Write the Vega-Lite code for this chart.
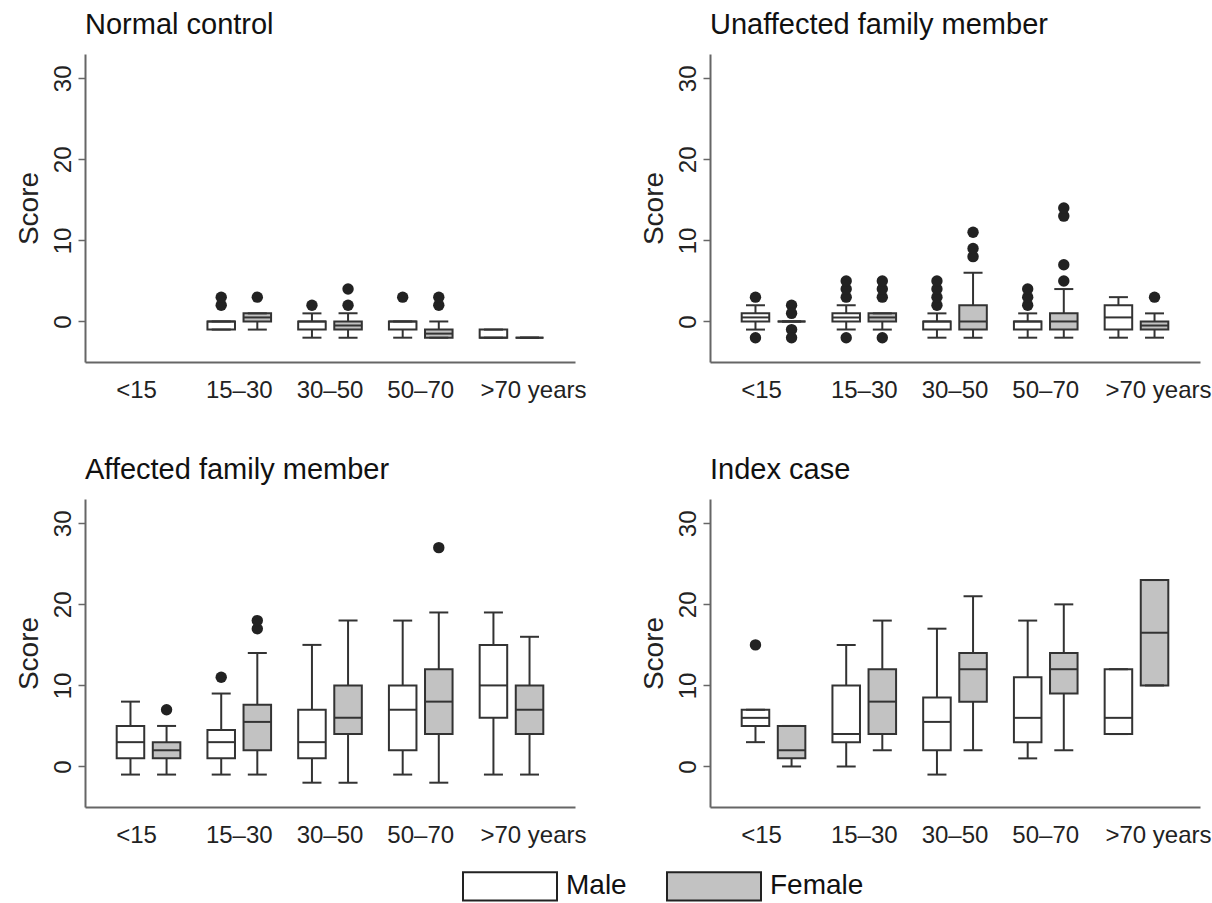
{
  "$schema": "https://vega.github.io/schema/vega-lite/v6.json",
  "background": "white",
  "padding": {"left": 15, "top": 11, "right": 5, "bottom": 2},
  "config": {
    "font": "Liberation Sans",
    "view": {"stroke": null},
    "axis": {"grid": false, "domainColor": "#666", "domainWidth": 2, "tickColor": "#666", "tickWidth": 1.5, "labelColor": "#222", "titleColor": "#222", "labelFont": "Liberation Sans", "titleFont": "Liberation Sans"}
  },
  "data": {"values": [
    {"kind": "box", "panel": "Normal control", "age": "15–30", "sex": "Male", "lo": -1, "q1": -1, "med": 0, "q3": 0, "hi": 0},
    {"kind": "box", "panel": "Normal control", "age": "15–30", "sex": "Female", "lo": -1, "q1": 0, "med": 0.5, "q3": 1, "hi": 1},
    {"kind": "box", "panel": "Normal control", "age": "30–50", "sex": "Male", "lo": -2, "q1": -1, "med": 0, "q3": 0, "hi": 1},
    {"kind": "box", "panel": "Normal control", "age": "30–50", "sex": "Female", "lo": -2, "q1": -1, "med": -0.5, "q3": 0, "hi": 1},
    {"kind": "box", "panel": "Normal control", "age": "50–70", "sex": "Male", "lo": -2, "q1": -1, "med": 0, "q3": 0, "hi": 0},
    {"kind": "box", "panel": "Normal control", "age": "50–70", "sex": "Female", "lo": -2, "q1": -2, "med": -1.5, "q3": -1, "hi": 0},
    {"kind": "box", "panel": "Normal control", "age": ">70", "sex": "Male", "lo": -2, "q1": -2, "med": -2, "q3": -1, "hi": -1},
    {"kind": "box", "panel": "Normal control", "age": ">70", "sex": "Female", "lo": -2, "q1": -2, "med": -2, "q3": -2, "hi": -2},
    {"kind": "out", "panel": "Normal control", "age": "15–30", "sex": "Male", "v": 2},
    {"kind": "out", "panel": "Normal control", "age": "15–30", "sex": "Male", "v": 3},
    {"kind": "out", "panel": "Normal control", "age": "15–30", "sex": "Female", "v": 3},
    {"kind": "out", "panel": "Normal control", "age": "30–50", "sex": "Male", "v": 2},
    {"kind": "out", "panel": "Normal control", "age": "30–50", "sex": "Female", "v": 2},
    {"kind": "out", "panel": "Normal control", "age": "30–50", "sex": "Female", "v": 4},
    {"kind": "out", "panel": "Normal control", "age": "50–70", "sex": "Male", "v": 3},
    {"kind": "out", "panel": "Normal control", "age": "50–70", "sex": "Female", "v": 2},
    {"kind": "out", "panel": "Normal control", "age": "50–70", "sex": "Female", "v": 3},

    {"kind": "box", "panel": "Unaffected family member", "age": "<15", "sex": "Male", "lo": -1, "q1": 0, "med": 0.5, "q3": 1, "hi": 2},
    {"kind": "box", "panel": "Unaffected family member", "age": "<15", "sex": "Female", "lo": 0, "q1": 0, "med": 0, "q3": 0, "hi": 0},
    {"kind": "box", "panel": "Unaffected family member", "age": "15–30", "sex": "Male", "lo": -1, "q1": 0, "med": 0.5, "q3": 1, "hi": 2},
    {"kind": "box", "panel": "Unaffected family member", "age": "15–30", "sex": "Female", "lo": -1, "q1": 0, "med": 0.5, "q3": 1, "hi": 1},
    {"kind": "box", "panel": "Unaffected family member", "age": "30–50", "sex": "Male", "lo": -2, "q1": -1, "med": 0, "q3": 0, "hi": 1},
    {"kind": "box", "panel": "Unaffected family member", "age": "30–50", "sex": "Female", "lo": -2, "q1": -1, "med": 0, "q3": 2, "hi": 6},
    {"kind": "box", "panel": "Unaffected family member", "age": "50–70", "sex": "Male", "lo": -2, "q1": -1, "med": 0, "q3": 0, "hi": 1},
    {"kind": "box", "panel": "Unaffected family member", "age": "50–70", "sex": "Female", "lo": -2, "q1": -1, "med": 0, "q3": 1, "hi": 4},
    {"kind": "box", "panel": "Unaffected family member", "age": ">70", "sex": "Male", "lo": -2, "q1": -1, "med": 0.5, "q3": 2, "hi": 3},
    {"kind": "box", "panel": "Unaffected family member", "age": ">70", "sex": "Female", "lo": -2, "q1": -1, "med": -0.5, "q3": 0, "hi": 1},
    {"kind": "out", "panel": "Unaffected family member", "age": "<15", "sex": "Male", "v": 3},
    {"kind": "out", "panel": "Unaffected family member", "age": "<15", "sex": "Male", "v": -2},
    {"kind": "out", "panel": "Unaffected family member", "age": "<15", "sex": "Female", "v": 2},
    {"kind": "out", "panel": "Unaffected family member", "age": "<15", "sex": "Female", "v": 1},
    {"kind": "out", "panel": "Unaffected family member", "age": "<15", "sex": "Female", "v": -1},
    {"kind": "out", "panel": "Unaffected family member", "age": "<15", "sex": "Female", "v": -2},
    {"kind": "out", "panel": "Unaffected family member", "age": "15–30", "sex": "Male", "v": 3},
    {"kind": "out", "panel": "Unaffected family member", "age": "15–30", "sex": "Male", "v": 4},
    {"kind": "out", "panel": "Unaffected family member", "age": "15–30", "sex": "Male", "v": 5},
    {"kind": "out", "panel": "Unaffected family member", "age": "15–30", "sex": "Male", "v": -2},
    {"kind": "out", "panel": "Unaffected family member", "age": "15–30", "sex": "Female", "v": 3},
    {"kind": "out", "panel": "Unaffected family member", "age": "15–30", "sex": "Female", "v": 4},
    {"kind": "out", "panel": "Unaffected family member", "age": "15–30", "sex": "Female", "v": 5},
    {"kind": "out", "panel": "Unaffected family member", "age": "15–30", "sex": "Female", "v": -2},
    {"kind": "out", "panel": "Unaffected family member", "age": "30–50", "sex": "Male", "v": 2},
    {"kind": "out", "panel": "Unaffected family member", "age": "30–50", "sex": "Male", "v": 3},
    {"kind": "out", "panel": "Unaffected family member", "age": "30–50", "sex": "Male", "v": 4},
    {"kind": "out", "panel": "Unaffected family member", "age": "30–50", "sex": "Male", "v": 5},
    {"kind": "out", "panel": "Unaffected family member", "age": "30–50", "sex": "Female", "v": 8},
    {"kind": "out", "panel": "Unaffected family member", "age": "30–50", "sex": "Female", "v": 9},
    {"kind": "out", "panel": "Unaffected family member", "age": "30–50", "sex": "Female", "v": 11},
    {"kind": "out", "panel": "Unaffected family member", "age": "50–70", "sex": "Male", "v": 2},
    {"kind": "out", "panel": "Unaffected family member", "age": "50–70", "sex": "Male", "v": 3},
    {"kind": "out", "panel": "Unaffected family member", "age": "50–70", "sex": "Male", "v": 4},
    {"kind": "out", "panel": "Unaffected family member", "age": "50–70", "sex": "Female", "v": 5},
    {"kind": "out", "panel": "Unaffected family member", "age": "50–70", "sex": "Female", "v": 7},
    {"kind": "out", "panel": "Unaffected family member", "age": "50–70", "sex": "Female", "v": 13},
    {"kind": "out", "panel": "Unaffected family member", "age": "50–70", "sex": "Female", "v": 14},
    {"kind": "out", "panel": "Unaffected family member", "age": ">70", "sex": "Female", "v": 3},

    {"kind": "box", "panel": "Affected family member", "age": "<15", "sex": "Male", "lo": -1, "q1": 1, "med": 3, "q3": 5, "hi": 8},
    {"kind": "box", "panel": "Affected family member", "age": "<15", "sex": "Female", "lo": -1, "q1": 1, "med": 2, "q3": 3, "hi": 5},
    {"kind": "box", "panel": "Affected family member", "age": "15–30", "sex": "Male", "lo": -1, "q1": 1, "med": 3, "q3": 4.5, "hi": 9},
    {"kind": "box", "panel": "Affected family member", "age": "15–30", "sex": "Female", "lo": -1, "q1": 2, "med": 5.5, "q3": 7.6, "hi": 14},
    {"kind": "box", "panel": "Affected family member", "age": "30–50", "sex": "Male", "lo": -2, "q1": 1, "med": 3, "q3": 7, "hi": 15},
    {"kind": "box", "panel": "Affected family member", "age": "30–50", "sex": "Female", "lo": -2, "q1": 4, "med": 6, "q3": 10, "hi": 18},
    {"kind": "box", "panel": "Affected family member", "age": "50–70", "sex": "Male", "lo": -1, "q1": 2, "med": 7, "q3": 10, "hi": 18},
    {"kind": "box", "panel": "Affected family member", "age": "50–70", "sex": "Female", "lo": -2, "q1": 4, "med": 8, "q3": 12, "hi": 19},
    {"kind": "box", "panel": "Affected family member", "age": ">70", "sex": "Male", "lo": -1, "q1": 6, "med": 10, "q3": 15, "hi": 19},
    {"kind": "box", "panel": "Affected family member", "age": ">70", "sex": "Female", "lo": -1, "q1": 4, "med": 7, "q3": 10, "hi": 16},
    {"kind": "out", "panel": "Affected family member", "age": "<15", "sex": "Female", "v": 7},
    {"kind": "out", "panel": "Affected family member", "age": "15–30", "sex": "Male", "v": 11},
    {"kind": "out", "panel": "Affected family member", "age": "15–30", "sex": "Female", "v": 17},
    {"kind": "out", "panel": "Affected family member", "age": "15–30", "sex": "Female", "v": 18},
    {"kind": "out", "panel": "Affected family member", "age": "50–70", "sex": "Female", "v": 27},

    {"kind": "box", "panel": "Index case", "age": "<15", "sex": "Male", "lo": 3, "q1": 5, "med": 6, "q3": 7, "hi": 7},
    {"kind": "box", "panel": "Index case", "age": "<15", "sex": "Female", "lo": 0, "q1": 1, "med": 2, "q3": 5, "hi": 5},
    {"kind": "box", "panel": "Index case", "age": "15–30", "sex": "Male", "lo": 0, "q1": 3, "med": 4, "q3": 10, "hi": 15},
    {"kind": "box", "panel": "Index case", "age": "15–30", "sex": "Female", "lo": 2, "q1": 4, "med": 8, "q3": 12, "hi": 18},
    {"kind": "box", "panel": "Index case", "age": "30–50", "sex": "Male", "lo": -1, "q1": 2, "med": 5.5, "q3": 8.5, "hi": 17},
    {"kind": "box", "panel": "Index case", "age": "30–50", "sex": "Female", "lo": 2, "q1": 8, "med": 12, "q3": 14, "hi": 21},
    {"kind": "box", "panel": "Index case", "age": "50–70", "sex": "Male", "lo": 1, "q1": 3, "med": 6, "q3": 11, "hi": 18},
    {"kind": "box", "panel": "Index case", "age": "50–70", "sex": "Female", "lo": 2, "q1": 9, "med": 12, "q3": 14, "hi": 20},
    {"kind": "box", "panel": "Index case", "age": ">70", "sex": "Male", "lo": 4, "q1": 4, "med": 6, "q3": 12, "hi": 12},
    {"kind": "box", "panel": "Index case", "age": ">70", "sex": "Female", "lo": 10, "q1": 10, "med": 16.5, "q3": 23, "hi": 23},
    {"kind": "out", "panel": "Index case", "age": "<15", "sex": "Male", "v": 15}
  ]},
  "facet": {
    "field": "panel", "type": "nominal",
    "sort": ["Normal control", "Unaffected family member", "Affected family member", "Index case"],
    "header": {"title": null, "labelAnchor": "start", "labelFontSize": 29, "labelFont": "Liberation Sans", "labelColor": "#111", "labelPadding": 14}
  },
  "columns": 2,
  "spacing": {"column": 53, "row": 54},
  "resolve": {"axis": {"x": "independent", "y": "independent"}},
  "spec": {
    "width": 490,
    "height": 308,
    "encoding": {
      "x": {
        "field": "age", "type": "nominal",
        "scale": {"domain": ["<15", "15–30", "30–50", "50–70", ">70"], "paddingInner": 0.2, "paddingOuter": 0.3},
        "axis": {
          "title": null, "ticks": false, "labelAngle": 0, "labelFontSize": 24, "labelPadding": 16,
          "labelExpr": "datum.value === '>70' ? '>70 years' : datum.label",
          "labelOffset": {"condition": [{"test": "datum.value === '>70'", "value": 22}, {"test": "datum.value === '<15'", "value": -12}], "value": 0}
        }
      },
      "xOffset": {"field": "sex", "type": "nominal", "scale": {"domain": ["Male", "Female"], "paddingInner": 0.237, "paddingOuter": 0.124}}
    },
    "layer": [
      {
        "transform": [{"filter": "datum.kind === 'box'"}],
        "mark": {"type": "rule", "color": "#333", "strokeWidth": 2},
        "encoding": {
          "y": {"field": "lo", "type": "quantitative", "scale": {"domain": [-5, 33], "nice": false, "zero": false},
                "axis": {"values": [0, 10, 20, 30], "title": "Score", "labelAngle": -90, "tickSize": 7, "labelFontSize": 24, "titleFontSize": 28, "titleFontWeight": "normal", "labelPadding": 3, "titlePadding": 8}},
          "y2": {"field": "hi"}
        }
      },
      {
        "transform": [{"filter": "datum.kind === 'box'"}],
        "mark": {"type": "bar", "stroke": "#333", "strokeWidth": 2},
        "encoding": {
          "y": {"field": "q1", "type": "quantitative"},
          "y2": {"field": "q3"},
          "fill": {
            "field": "sex", "type": "nominal",
            "scale": {"domain": ["Male", "Female"], "range": ["#ffffff", "#c2c2c2"]},
            "legend": {"orient": "none", "legendX": 377, "legendY": 784, "direction": "horizontal", "title": null, "symbolType": "M-1,-0.3H1V0.3H-1Z", "symbolSize": 8836, "symbolStrokeColor": "#222", "symbolStrokeWidth": 2, "symbolOpacity": 1, "labelFontSize": 28, "labelColor": "#111", "labelOffset": 8, "columnPadding": 36}
          }
        }
      },
      {
        "transform": [{"filter": "datum.kind === 'box'"}],
        "mark": {"type": "tick", "orient": "horizontal", "color": "#333", "opacity": 1, "thickness": 2, "size": 28},
        "encoding": {"y": {"field": "med", "type": "quantitative"}}
      },
      {
        "transform": [{"filter": "datum.kind === 'box'"}],
        "mark": {"type": "tick", "orient": "horizontal", "color": "#333", "opacity": 1, "thickness": 2, "size": 19},
        "encoding": {"y": {"field": "lo", "type": "quantitative"}}
      },
      {
        "transform": [{"filter": "datum.kind === 'box'"}],
        "mark": {"type": "tick", "orient": "horizontal", "color": "#333", "opacity": 1, "thickness": 2, "size": 19},
        "encoding": {"y": {"field": "hi", "type": "quantitative"}}
      },
      {
        "transform": [{"filter": "datum.kind === 'out'"}],
        "mark": {"type": "circle", "color": "#222", "size": 130, "opacity": 1},
        "encoding": {"y": {"field": "v", "type": "quantitative"}}
      }
    ]
  }
}
